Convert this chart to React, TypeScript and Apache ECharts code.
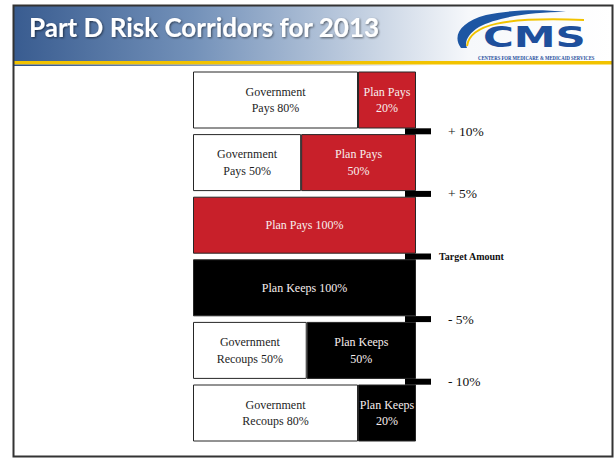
import React, { useEffect, useRef } from "react";
import * as echarts from "echarts";

// ---- data ----
const corridors = ["Above +10%", "+5% to +10%", "Target to +5%", "-5% to Target", "-10% to -5%", "Below -10%"];
// drawn widths of the two parts of each corridor box (share of box width)
const govShare = [74, 48.5, 0, 0, 51, 74];
const planShare = [26, 51.5, 100, 100, 49, 26];
const planColors = ["#c8202a", "#c8202a", "#c8202a", "#000000", "#000000", "#000000"];
const govLabels = [
  "Government\nPays 80%",
  "Government\nPays 50%",
  "",
  "",
  "Government\nRecoups 50%",
  "Government\nRecoups 80%",
];
const planLabels = [
  "Plan Pays\n20%",
  "Plan Pays\n50%",
  "Plan Pays 100%",
  "Plan Keeps 100%",
  "Plan Keeps\n50%",
  "Plan Keeps\n20%",
];
// corridor thresholds sit on the boundaries between boxes
const thresholdPos = [1, 2, 3, 4, 5];
const thresholdLabels = ["+ 10%", "+ 5%", "Target Amount", "- 5%", "- 10%"];
const titleText = "Part D Risk Corridors for 2013";

const swooshPath =
  "M 461 48 C 452 36, 460 22, 486 15 C 508 10, 540 9, 566 12 C 532 12, 497 17, 479 27 C 468 34, 464 42, 467 48 Z";

let registered = false;
function ensureShapes() {
  if (registered) return;
  echarts.graphic.registerShape("cmsSwoosh", echarts.graphic.extendPath(swooshPath, {}));
  registered = true;
}

export default function App() {
  const ref = useRef<HTMLDivElement>(null);
  useEffect(() => {
    if (!ref.current) return;
    ensureShapes();
    const chart = echarts.init(ref.current, null, { renderer: "svg" });
    const serif = "Liberation Serif";
    const option: any = {
      animation: false,
      backgroundColor: "#ffffff",
      grid: { left: 193, top: 68.7, width: 223, height: 375.6, containLabel: false },
      xAxis: { type: "value", min: 0, max: 100, show: false },
      yAxis: [
        { type: "category", data: corridors, inverse: true, show: false },
        { type: "value", min: 0, max: 6, inverse: true, show: false },
      ],
      graphic: [
        {
          type: "rect",
          shape: { x: 14, y: 6, width: 598, height: 55 },
          style: {
            fill: new echarts.graphic.LinearGradient(0, 0, 1, 0, [
              { offset: 0, color: "#395c90" },
              { offset: 0.3, color: "#7391b9" },
              { offset: 0.55, color: "#b9c8dc" },
              { offset: 0.76, color: "#f6f8fb" },
              { offset: 1, color: "#ffffff" },
            ]),
          },
          z: 0,
        },
        {
          type: "rect",
          shape: { x: 14, y: 61, width: 598, height: 3.5 },
          style: { fill: "#f2c300" },
          z: 1,
        },
        {
          type: "rect",
          shape: { x: 14, y: 64.5, width: 598, height: 1.5 },
          style: {
            fill: new echarts.graphic.LinearGradient(0, 0, 1, 0, [
              { offset: 0, color: "#2c4f87" },
              { offset: 0.7, color: "rgba(44,79,135,0)" },
              { offset: 1, color: "rgba(44,79,135,0)" },
            ]),
          },
          z: 1,
        },
        {
          type: "rect",
          shape: { x: 13.5, y: 5.5, width: 599, height: 451 },
          style: { fill: "none", stroke: "#333333", lineWidth: 2 },
          z: 5,
        },
        {
          type: "text",
          x: 29,
          y: 27,
          style: {
            text: titleText,
            fill: "#ffffff",
            fontFamily: "Lato",
            fontWeight: 700,
            fontSize: 26,
            verticalAlign: "middle",
            align: "left",
            textShadowColor: "rgba(0,0,0,0.55)",
            textShadowBlur: 2,
            textShadowOffsetX: 1,
            textShadowOffsetY: 1,
          },
          z: 2,
        },
        {
          type: "cmsSwoosh",
          x: 0,
          y: 0,
          style: { fill: "#1d56a3" },
          z: 2,
        },
        {
          type: "bezierCurve",
          shape: { x1: 467, y1: 46, cpx1: 470, cpy1: 24, cpx2: 505, cpy2: 17, x2: 584, y2: 20 },
          style: { stroke: "#f2c300", lineWidth: 2, fill: "none" },
          z: 2,
        },
        {
          type: "text",
          x: 483,
          y: 37,
          scaleX: 1.5,
          style: {
            text: "CMS",
            fill: "#1e4f9c",
            fontFamily: "DejaVu Sans",
            fontWeight: "bold",
            fontSize: 28,
            verticalAlign: "middle",
            align: "left",
          },
          z: 3,
        },
        {
          type: "text",
          x: 478,
          y: 58,
          scaleX: 0.86,
          style: {
            text: "CENTERS FOR MEDICARE & MEDICAID SERVICES",
            fill: "#1e4f9c",
            fontFamily: serif,
            fontWeight: "bold",
            fontSize: 5.5,
            verticalAlign: "middle",
            align: "left",
          },
          z: 3,
        },
      ],
      series: [
        {
          type: "bar",
          stack: "box",
          barWidth: 57,
          data: govShare.map((v) => (v === 0 ? "-" : v)),
          itemStyle: { color: "#ffffff", borderColor: "#262626", borderWidth: 1 },
          label: {
            show: true,
            position: "inside",
            formatter: (p: any) => govLabels[p.dataIndex],
            color: "#1e1e1e",
            fontFamily: serif,
            fontSize: 12,
            lineHeight: 16.5,
          },
          z: 2,
        },
        {
          type: "bar",
          stack: "box",
          barWidth: 57,
          data: planShare.map((v, i) => ({ value: v, itemStyle: { color: planColors[i] } })),
          itemStyle: { borderColor: "#262626", borderWidth: 1 },
          label: {
            show: true,
            position: "inside",
            formatter: (p: any) => planLabels[p.dataIndex],
            color: "#f7eeee",
            fontFamily: serif,
            fontSize: 12,
            lineHeight: 16.5,
          },
          z: 2,
        },
        {
          type: "scatter",
          xAxisIndex: 0,
          yAxisIndex: 1,
          symbol: "rect",
          symbolSize: [26, 6],
          symbolOffset: [2, 0],
          itemStyle: { color: "#000000", opacity: 1 },
          data: thresholdPos.map((p, i) => {
            const bold = thresholdLabels[i] === "Target Amount";
            return {
              value: [100, p],
              label: {
                show: true,
                position: "right",
                distance: bold ? 8 : 17,
                formatter: thresholdLabels[i],
                color: "#111111",
                fontFamily: serif,
                fontWeight: bold ? "bold" : "normal",
                fontSize: bold ? 10 : 13.5,
              },
            };
          }),
          z: 4,
        },
      ],
    };
    chart.setOption(option);
    return () => chart.dispose();
  }, []);
  return (
    <div
      ref={ref}
      style={{ position: "fixed", left: 0, top: 0, width: 614, height: 458 }}
    />
  );
}
